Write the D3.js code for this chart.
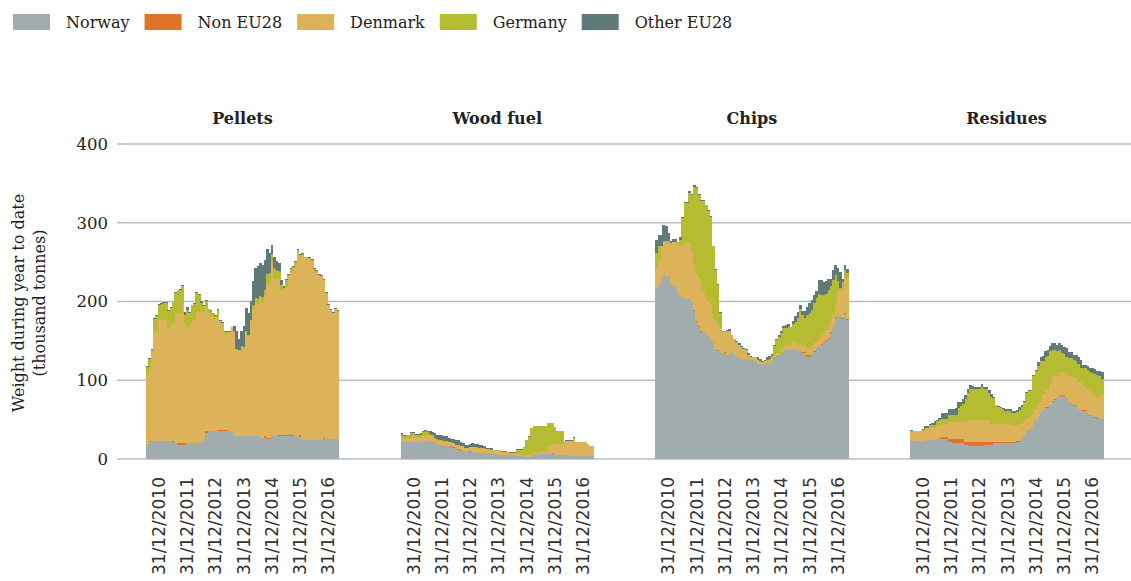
<!DOCTYPE html>
<html>
<head>
<meta charset="utf-8">
<script src="https://cdn.jsdelivr.net/npm/d3@7"></script>
<style>
  body { margin: 0; background: #fff; }
  svg text { font-family: "DejaVu Serif", serif; fill: #222; }
  .xlab { font-family: "DejaVu Sans", sans-serif; fill: #333; }
</style>
</head>
<body>
<svg id="chart" width="1131" height="581"></svg>
<script>
// Wood imports by origin — monthly stacked bars, one panel per product

// ---- Data ----
const products = ["Pellets", "Wood fuel", "Chips", "Residues"];
const origins = ["Norway", "Non EU28", "Denmark", "Germany", "Other EU28"];
const originColors = ["#a0acad", "#e07328", "#ddb35a", "#b5bc32", "#5f7a79"];

// monthly, Jul 2010 .. Apr 2017 (82 months)
const months = d3.timeMonths(new Date(2010, 6, 1), new Date(2017, 4, 1));
const tickYears = [2010, 2011, 2012, 2013, 2014, 2015, 2016];
const tickLabels = ["31/12/2010", "31/12/2011", "31/12/2012", "31/12/2013", "31/12/2014", "31/12/2015", "31/12/2016"];
const yTicks = [0, 100, 200, 300, 400];

// Pellets
const pelletsNorway = [18,21,23,23,23,23,23,23,23,23, 22,22,20,18,18,18,18,20,20,20, 20,20,20,22,25,33,35,35,35,35,
  35,35,35,35,35,35,35,29,29,29, 29,29,29,29,29,29,29,29,27,27, 27,25,25,29,29,29,29,29,29,29,
  29,29,29,29,29,28,24,24,24,24, 24,24,24,24,24,26,26,26,26,26, 26,26];
const pelletsNonEU = [0,2,0,0,0,0,0,0,0,0, 0,1,0,2,2,2,2,0,0,0, 0,0,0,0,1,2,0,0,0,0,
  2,2,2,2,2,0,0,0,0,0, 0,0,0,0,0,0,0,0,0,0, 2,2,2,0,0,0,1,1,1,1,
  1,1,1,0,0,2,0,0,0,0, 0,0,0,0,0,1,0,0,0,0, 0,0];
const pelletsDenmark = [89,90,110,138,139,153,153,153,153,143, 147,149,166,166,166,177,151,147,147,154,
  157,167,167,166,161,158,150,148,147,141, 146,136,134,122,122,124,130,132,110,108,
  113,112,132,127,146,162,170,168,174,171, 178,195,196,221,200,201,199,184,183,189,
  202,208,211,218,235,227,234,231,231,230, 228,216,214,209,208,199,184,169,162,159, 164,161];
const pelletsGermany = [10,14,6,17,20,20,21,22,22,22, 23,27,25,28,29,23,12,22,19,21, 20,24,21,10,7,8,5,5,3,6,
  6,2,2,2,2,2,2,2,1,1, 1,1,1,1,2,5,5,6,6,8, 8,13,13,10,13,10,10,7,4,8,
  2,3,3,3,2,2,2,1,1,1, 1,1,1,1,1,1,1,1,1,1, 1,1];
const pelletsOther = [1,1,1,1,1,1,1,1,1,1, 1,1,1,1,1,1,4,4,1,1, 1,1,1,3,1,1,1,1,1,1,
  1,1,1,1,1,1,1,6,22,14, 19,27,30,28,24,30,38,42,42,40, 38,32,25,12,15,12,10,6,3,2,
  1,1,1,1,1,1,1,1,1,1, 1,1,1,1,1,1,1,1,1,1, 1,1];

// Wood fuel
const woodNorway = [21,21,21,21,22,21,23,20,21,23, 23,23,22,21,20,19,18,18,17,16, 16,15,14,13,12,10,10,9,9,9,
  9,9,8,8,8,7,7,7,6,6, 6,5,5,5,5,5,5,5,4,4, 4,4,3,3,3,5,6,6,6,6,
  6,6,6,6,6,6,5,5,5,5, 5,4,4,4,4,3.5,3.5,3.5,3.5,3.5, 3.5,3.5];
const woodNonEU = [0,0,0,0,0,0,0,0,0,0, 0,0,0,1,0,0,0,0,0,0, 1,1,1,0,1,1,0,0,0,1,
  0,0,0,0,0,0,0,0,0,0, 0,0,0,0,0,0,0,0,0,0, 0,0,0,0,0,0,0,0,0,0,
  0,0,0,0,1,0,0,0,0,0, 0,0,0,0,0,0,0,0,0,0, 0,0];
const woodDenmark = [6,5,6,6,7,8,5,8,7,7, 6,7,7,7,6,5,5,5,5,6, 5,5,5,5,5,6,6,5,5,5,
  6,6,7,6,6,7,6,6,6,5, 5,6,6,4.5,4.5,3.5,3,3,4,2, 2,2,2,2,2,2,2,2,2,3,
  3,4,11,12,12,13,14,14,14,18, 18,19,19,23,17,17.5,17.5,17.5,18,15, 13,13];
const woodGermany = [4,3,3,3,4,4,3,3,3,4, 6,4,3,2,1,1,1,1,1,1, 0,0,0,0,0,0,0,0,0,0,
  0,0,0,0,0,0,0,0,0,0, 0,0,0,0,0,0,0,0,0,6, 6,6,10,18.5,23.5,32.5,33.5,33.5,33.5,32.5,
  32.5,31.5,28.5,27.5,26.5,21.5,16,16,16,0, 0,0,0,0,0,0,0,0,0,0, 0,0];
const woodOther = [2,2,1,1,1,1,1,1,2,1, 2,2,3,3,6,6,7,6,6,6, 5,5,6,6,6,5,4,4,4,4,
  5,4,4,4,4,3,1,1,2,1, 0.5,0.5,0.5,0.5,0.5,0.5,0.5,0.5,0.5,0.5, 0.5,0.5,0.5,0.5,0.5,0.5,0.5,0.5,0.5,0.5,
  0.5,0.5,0.5,0.5,0.5,0.5,0.5,0.5,0.5,0.3, 0.5,0.5,0.5,0.5,0.5,0.5,0.5,0.5,0.5,0.5, 0.5,0.5];

// Chips
const chipsNorway = [217,222,228,236,232,232,222,220,220,210, 207,205,203,203,203,198,188,174,168,161,
  161,158,156,153,149,140,137,137,135,135, 132,134,137,132,130,128,127,126,126,126,
  126,126,124,121,121,120,121,121,121,125, 129,132,132,134,138,138,138,138,140,140,
  138,138,135,135,130,130,134,136,141,143, 145,147,150,153,160,167,179,181,181,178, 184,177];
const chipsNonEU = [0,0,0,0,0,0,0,0,0,0, 0,0,0,0,0,0,1,1,1,1, 0,0,0,0,0,0,1,0,0,1,
  0,0,0,0,0,0,0,0,0,0, 0,0,0,0,0,0,0,0,0,0, 0,0,0,0,0,0,0,0,0,0,
  1,1,1,1,2,2,1,1,0,1, 1,1,1,1,1,1,1,1,0,1, 1,1];
const chipsDenmark = [25,29,41,40,44,44,50,55,55,62, 63,65,71,71,71,65,57,60,61,64,
  54,48,44,44,35,36,33,29,26,25, 29,28,19,19,18,17,15,14,12,6,
  3,3,5,5,4,3,3,5,5,4, 3,2,3,6,6,6,7,7,9,9,
  6,7,9,9,9,9,9,10,8,10, 12,12,13,15,17,15,18,34,34,36, 44,52];
const chipsGermany = [20,19,2,1,1,1,2,1,1,3, 8,36,51,51,64,72,100,109,105,102,
  113,116,115,110,86,64,50,20,1,1, 1,1,1,1,1,0,0.5,0,0,0,
  0,0,0,0,0,0.5,0,0,1,2, 12,17,20,20,22,22,23,22,23,25,
  34,45,38,34,42,44,45,51,56,55, 50,48,46,45,42,44,36,10,2,10, 11,6];
const chipsOther = [16,15,14,20,19,10,3,4,4,1, 4,1,1,1,2,2,2,2,1,1,
  1,1,1,1,1,1,1,1,1,1, 2,2,1,1,1,2,1,1,2,2,
  2,1,1,3,2,1.5,2,3,4,2, 1,1,2,2,3,4,3,1,3,7,
  8,4,5,9,10,13,13,10,8,18, 19,17,16,15,9,13,12,16,20,4, 6,5];

// Residues
const resNorway = [23,23,23,23,23,23,24,24,24,24, 24,26,26,25,25,25,22,21,20,20,
  20,20,20,18,18,17,16,16,16,16, 16,18,18,18,18,20,20,20,20,20,
  20,20,20,20,20,22,22,25,30,37, 37,40,47,50,54,59,62,65,65,69,
  73,75,77,79,80,80,77,72,71,67, 67,64,64,61,61,58,55,54,52,52, 52,51];
const resNonEU = [0,0,0,0,0,0,0,0,0,0, 0,0,0.5,3,3,3,4,5,6,6,
  6,6,6,4,4,5,6,6,6,6, 6,4,4,4,3,1,1,1,1,1,
  1,1,1,1,1,1,1,1,1,0, 0,0,0,0,0,0,0,1,1,0,
  1,1,0,1,1,1,0,0,0,1, 1,0,0,1,1,1,1,1,1,1, 0,0];
const resDenmark = [13,12,12,12,12,13,15,15,16,16, 16,17,16.5,17,17,17,21,21,21,21,
  21,21,21,26,26,28,28,28,28,28, 28,28,28,26,24,24,24,23,23,23,
  23,23,23,22,22,20,22,19,17,15, 15,16,17,14,19,14,20,23,23,27,
  31,29,28,31,29,29,30,33,34,35, 35,34,34,32,30,29,30,30,30,26, 29,30];
const resGermany = [0,0,0,0,0,1,1,1,3,3, 3,5,6.5,6,6,6,9,9,9,9,
  18,20,23,28,36,39,39,39,39,39, 42,39,39,36,34,32,23,22,21,19,
  17,17,17,16,16,17,17,21,25,32, 34,31,42,48,45,51,43,41,42,41,
  33,33,32,27,25,23,23,23,23,23, 21,23,18,21,23,25,25,24,25,28, 24,21];
const resOther = [1,1,1,1,1,1,2,2,2,3, 5,2,3,8,8,8,8,8,8,9,
  7,6,6,5,5,5,4,3,3,3, 3,3,3,4,4,2,1,1,1,2,
  2,2,2,2,2,2,4,2,1,1, 1,1,1,1,5,6,6,7,7,6,
  9,9,8,9,10,9,11,8,8,6, 8,9,10,5,5,5,5,6,6,5, 7,8];

const seriesByProduct = {
  "Pellets":   [pelletsNorway, pelletsNonEU, pelletsDenmark, pelletsGermany, pelletsOther],
  "Wood fuel": [woodNorway, woodNonEU, woodDenmark, woodGermany, woodOther],
  "Chips":     [chipsNorway, chipsNonEU, chipsDenmark, chipsGermany, chipsOther],
  "Residues":  [resNorway, resNonEU, resDenmark, resGermany, resOther]
};

// ---- Layout / scales ----
const svg = d3.select("#chart");
const PANEL = { left: 146, width: 193, step: 254.7 };
const GRID_X = [117, 1131];

const y = d3.scaleLinear().domain([0, 400]).range([459, 144]);
const color = d3.scaleOrdinal().domain(origins).range(originColors);
const stack = d3.stack().keys(origins);

// legend
const legend = svg.append("g").attr("class", "legend");
let lx = 13;
origins.forEach(k => {
  legend.append("rect")
    .attr("x", lx).attr("y", 14)
    .attr("width", 37).attr("height", 16)
    .attr("fill", color(k));
  const t = legend.append("text")
    .attr("x", lx + 53).attr("y", 28)
    .style("font-size", "16px")
    .text(k);
  lx += 53 + t.node().getComputedTextLength() + 15;
});

// grid
svg.append("g").attr("class", "grid")
  .selectAll("line").data(yTicks).enter().append("line")
  .attr("x1", GRID_X[0]).attr("x2", GRID_X[1])
  .attr("y1", d => y(d)).attr("y2", d => y(d))
  .attr("stroke", "#b5bfbf").attr("stroke-width", 1.3);

// y axis labels
svg.append("g").attr("class", "y-labels")
  .selectAll("text").data(yTicks).enter().append("text")
  .attr("x", 108).attr("y", d => y(d))
  .attr("dy", "0.35em")
  .attr("text-anchor", "end")
  .style("font-size", "16.5px")
  .text(d => d);

// y axis title
const yTitle = svg.append("g").attr("transform", "translate(0,303)");
yTitle.append("text")
  .attr("transform", "translate(24,0) rotate(-90)")
  .attr("text-anchor", "middle")
  .style("font-size", "16px")
  .text("Weight during year to date");
yTitle.append("text")
  .attr("transform", "translate(45,0) rotate(-90)")
  .attr("text-anchor", "middle")
  .style("font-size", "16px")
  .text("(thousand tonnes)");

// ---- Panels ----
products.forEach((p, pi) => {
  const x0 = PANEL.left + pi * PANEL.step;
  const x = d3.scaleBand().domain(months).range([x0, x0 + PANEL.width]).padding(0);

  const rows = months.map((m, i) => {
    const r = { date: m };
    origins.forEach((k, ki) => { r[k] = seriesByProduct[p][ki][i]; });
    return r;
  });

  const g = svg.append("g").attr("class", "panel");

  // title
  g.append("text")
    .attr("x", x0 + PANEL.width / 2).attr("y", 124)
    .attr("text-anchor", "middle")
    .style("font-size", "16px").style("font-weight", "bold")
    .text(p);

  // stacked bars
  g.selectAll(".layer").data(stack(rows)).enter().append("g")
    .attr("class", "layer")
    .attr("fill", d => color(d.key))
    .selectAll("rect").data(d => d).enter().append("rect")
    .attr("x", d => x(d.data.date))
    .attr("width", x.bandwidth() + 0.4)
    .attr("y", d => y(d[1]))
    .attr("height", d => Math.max(0, y(d[0]) - y(d[1])))
    .attr("shape-rendering", "crispEdges");

  // x tick labels (end of each year)
  const tickMonths = tickYears.map(yr => months.find(m => m.getFullYear() === yr && m.getMonth() === 11));
  g.selectAll(".xlab").data(tickMonths).enter().append("text")
    .attr("class", "xlab")
    .attr("transform", d => `translate(${x(d) + x.bandwidth() / 2},477) rotate(-90)`)
    .attr("dy", "0.35em")
    .attr("text-anchor", "end")
    .style("font-size", "17px")
    .text((d, i) => tickLabels[i]);
});
</script>
</body>
</html>
